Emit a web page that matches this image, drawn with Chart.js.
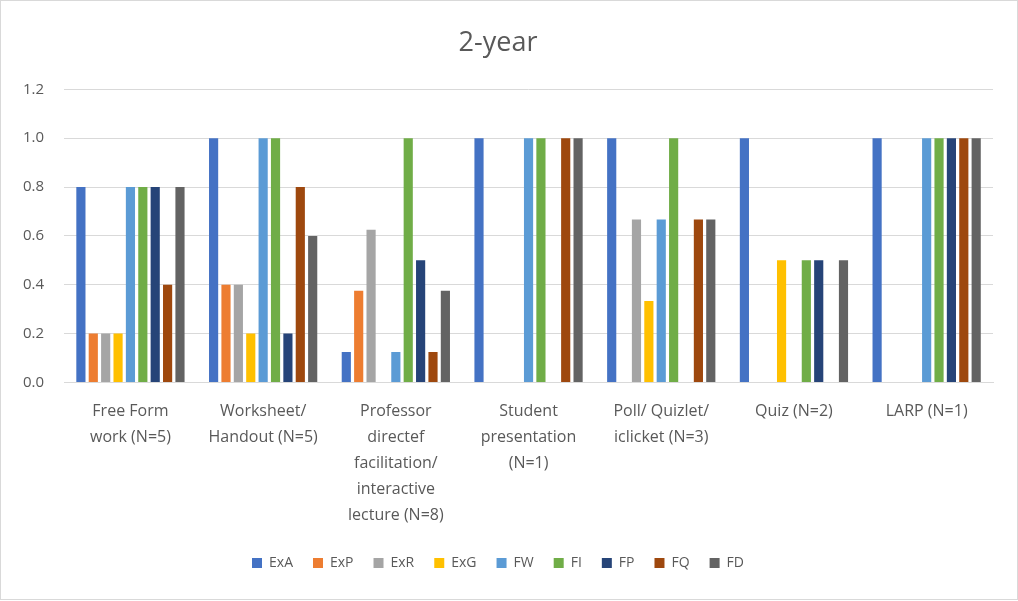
<!DOCTYPE html>
<html>
<head>
<meta charset="utf-8">
<script src="https://cdn.jsdelivr.net/npm/chart.js@4.4.0/dist/chart.umd.min.js"></script>
<style>
  html, body { margin:0; padding:0; background:#fff; }
  #wrap { position:absolute; left:0; top:0; width:1016px; height:598px; border:1px solid #d9d9d9; }
  canvas { display:block; }
</style>
</head>
<body>
<div id="wrap"><canvas id="c"></canvas></div>
<script>
'use strict';
// ── Data ─────────────────────────────────────────────────
const CATEGORIES = [
  ['Free Form', 'work (N=5)'],
  ['Worksheet/', 'Handout (N=5)'],
  ['Professor', 'directef', 'facilitation/', 'interactive', 'lecture (N=8)'],
  ['Student', 'presentation', '(N=1)'],
  ['Poll/ Quizlet/', 'iclicket (N=3)'],
  'Quiz (N=2)',
  'LARP (N=1)',
];
const SERIES = ['ExA', 'ExP', 'ExR', 'ExG', 'FW', 'FI', 'FP', 'FQ', 'FD'];
const COLORS = ['#4472C4', '#ED7D31', '#A5A5A5', '#FFC000', '#5B9BD5', '#70AD47', '#264478', '#9E480E', '#636363'];

const ExA = [0.8, 1.0, 0.125, 1.0, 1.0,   1.0, 1.0];
const ExP = [0.2, 0.4, 0.375, 0,   0,     0,   0];
const ExR = [0.2, 0.4, 0.625, 0,   0.667, 0,   0];
const ExG = [0.2, 0.2, 0,     0,   0.333, 0.5, 0];
const FW  = [0.8, 1.0, 0.125, 1.0, 0.667, 0,   1.0];
const FI  = [0.8, 1.0, 1.0,   1.0, 1.0,   0.5, 1.0];
const FP  = [0.8, 0.2, 0.5,   0,   0,     0.5, 1.0];
const FQ  = [0.4, 0.8, 0.125, 1.0, 0.667, 0,   1.0];
const FD  = [0.8, 0.6, 0.375, 1.0, 0.667, 0.5, 1.0];
const VALUES = [ExA, ExP, ExR, ExG, FW, FI, FP, FQ, FD];

const TEXT = '#595959';
const FONT = "'Open Sans', 'Noto Sans', sans-serif";

const $ = id => document.getElementById(id);
const cv = $('c');
cv.width = 1016; cv.height = 598;

new Chart(cv.getContext('2d'), {
  type: 'bar',
  data: {
    labels: CATEGORIES,
    datasets: SERIES.map((s, i) => ({
      label: s, data: VALUES[i], backgroundColor: COLORS[i], borderWidth: 0,
      categoryPercentage: 0.84, barPercentage: 0.74,
    })),
  },
  options: {
    responsive: false, animation: false,
    layout: { padding: { left: 2, right: 24, top: 26, bottom: 19 } },
    plugins: {
      title: { display: true, text: '2-year', color: TEXT, font: { family: FONT, size: 27, weight: 'normal' }, padding: { top: 0, bottom: 30 } },
      legend: {
        position: 'bottom',
        labels: { color: TEXT, boxWidth: 10, boxHeight: 10, padding: 20, font: { family: FONT, size: 14 } },
      },
      tooltip: { enabled: false },
    },
    scales: {
      x: {
        grid: { display: false },
        border: { color: '#d9d9d9' },
        ticks: { color: TEXT, maxRotation: 0, autoSkip: false, padding: 8, font: { family: FONT, size: 16, lineHeight: 1.62 } },
      },
      y: {
        min: 0, max: 1.2,
        grid: { color: '#d9d9d9', drawTicks: false },
        border: { display: false },
        ticks: { stepSize: 0.2, color: TEXT, padding: 20, font: { family: FONT, size: 15 }, callback: v => v.toFixed(1) },
      },
    },
  },
});
</script>
</body>
</html>
